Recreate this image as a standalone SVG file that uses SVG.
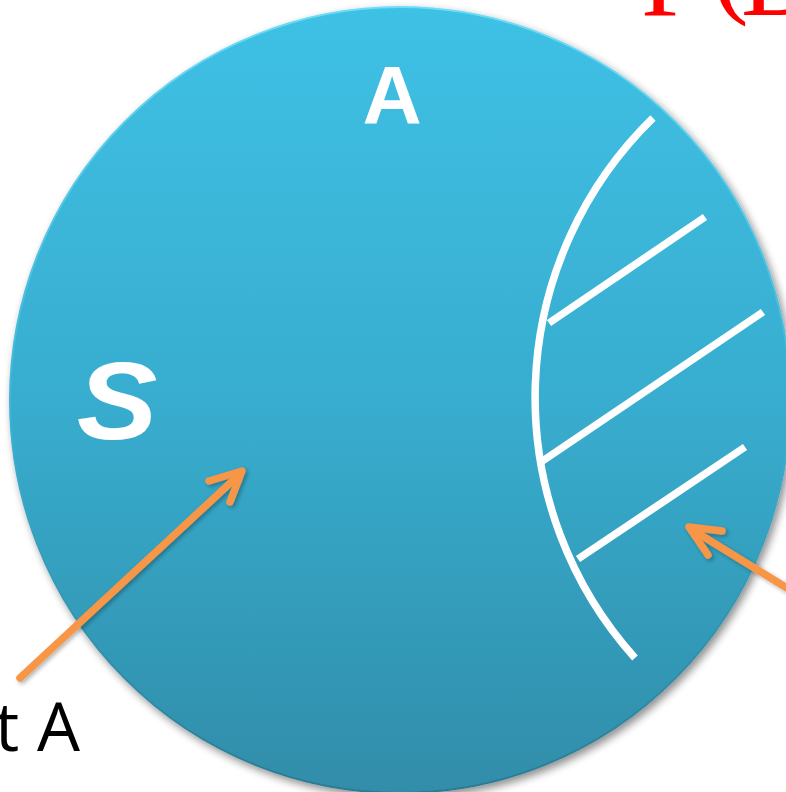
<svg xmlns="http://www.w3.org/2000/svg" width="786" height="792" viewBox="0 0 786 792">
<defs>
<linearGradient id="fillGrad" x1="0" y1="0" x2="0" y2="1">
<stop offset="0" stop-color="#3EC1E5"/>
<stop offset="0.5" stop-color="#38ADCF"/>
<stop offset="1" stop-color="#308DA9"/>
</linearGradient>
<linearGradient id="rimGrad" x1="0" y1="0" x2="0" y2="1">
<stop offset="0" stop-color="#6FDCF7"/>
<stop offset="0.5" stop-color="#3FB5D6"/>
<stop offset="1" stop-color="#2A7A92"/>
</linearGradient>
<filter id="shadow" x="-10%" y="-10%" width="120%" height="120%">
<feGaussianBlur in="SourceAlpha" stdDeviation="4"/>
<feOffset dx="3" dy="4" result="b"/>
<feComponentTransfer><feFuncA type="linear" slope="0.45"/></feComponentTransfer>
<feMerge><feMergeNode/><feMergeNode in="SourceGraphic"/></feMerge>
</filter>
<filter id="ashadow" x="-10%" y="-10%" width="120%" height="120%">
<feGaussianBlur in="SourceAlpha" stdDeviation="2"/>
<feOffset dx="2" dy="2"/>
<feComponentTransfer><feFuncA type="linear" slope="0.3"/></feComponentTransfer>
<feMerge><feMergeNode/><feMergeNode in="SourceGraphic"/></feMerge>
</filter>
</defs>
<style>
.white{stroke:#FFFFFF;stroke-width:7.5;fill:none}
.arrow{stroke:#F79646;stroke-width:7.5;fill:none;stroke-linecap:round;stroke-linejoin:round}
.lbl{fill:#FFFFFF;font-family:"Liberation Sans",Arial,sans-serif;font-weight:bold}
.blk{fill:#000000;font-family:"Open Sans","Liberation Sans",sans-serif}
.red{fill:#FF0000;font-family:"Liberation Serif","Times New Roman",serif}
</style>
<g id="title">
<text class="red" font-size="110"><tspan x="641" y="15">P</tspan><tspan x="712" y="3">(</tspan><tspan x="741" y="15">B</tspan></text>
</g>
<g id="setS">
<ellipse cx="400" cy="400" rx="390" ry="393" fill="url(#fillGrad)" stroke="url(#rimGrad)" stroke-width="2" filter="url(#shadow)"/>
<text class="lbl" x="392" y="123" font-size="82" text-anchor="middle">A</text>
<text class="lbl" x="117" y="439" font-size="110" font-style="italic" text-anchor="middle" transform="translate(117,0) scale(1.1,1) translate(-117,0)">S</text>
</g>
<g id="regionA">
<path class="white" d="M653,118 A390,390 0 0 0 635,658"/>
<line class="white" x1="549" y1="323" x2="705" y2="217"/>
<line class="white" x1="541" y1="462" x2="763" y2="312"/>
<line class="white" x1="578" y1="559" x2="745" y2="447"/>
</g>
<g id="labelA">
<text class="blk" x="80" y="751" font-size="68" text-anchor="end">t A</text>
</g>
<g id="connectors" filter="url(#ashadow)">
<line class="arrow" x1="20" y1="678" x2="240" y2="474"/>
<polyline class="arrow" points="209,481 242,471 230,502"/>
<line class="arrow" x1="800" y1="596" x2="691" y2="529"/>
<polyline class="arrow" points="722,531 689,527 708,555"/>
</g>
</svg>
